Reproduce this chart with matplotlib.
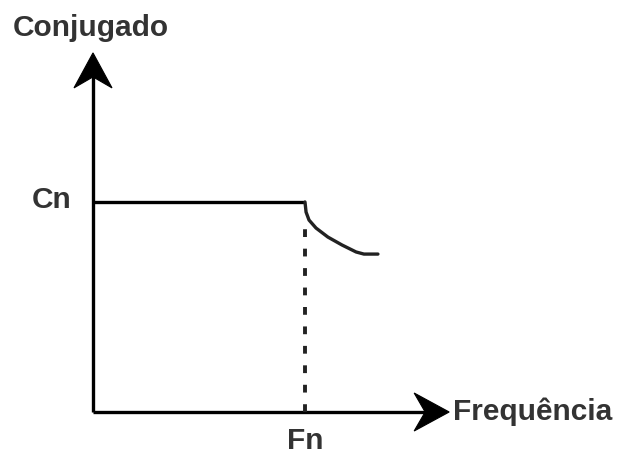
import matplotlib
matplotlib.use("Agg")
import matplotlib.pyplot as plt
from matplotlib.patches import Polygon

# Data (normalized: frequency in units of Fn, torque in units of Cn)
fn = 1.0
cn = 1.0
x_max = 1.68
y_max = 1.71
flat_x = [0.0, 1.0]
flat_y = [1.0, 1.0]
curve_x = [1.0, 1.005, 1.019, 1.052, 1.108, 1.175, 1.241, 1.278, 1.344]
curve_y = [1.0, 0.952, 0.914, 0.876, 0.833, 0.795, 0.762, 0.752, 0.752]
dotted_top = 0.87
labels = {"y": "Conjugado", "x": "Frequência", "cn": "Cn", "fn": "Fn"}

W, H = 624, 455
fig = plt.figure(figsize=(W / 100, H / 100), dpi=100)
ax = fig.add_axes([0, 0, 1, 1])
sx, sy = 212.0, 210.0
ox, oy = 93.0, 412.0
ax.set_xlim(-ox / sx, (W - ox) / sx)
ax.set_ylim(-(H - oy) / sy, oy / sy)
ax.axis("off")

lw = 2.4
# axis shafts
ax.plot([0, 0], [0, y_max - 20 / sy], color="black", lw=lw, solid_capstyle="butt")
ax.plot([0, x_max - 20 / sx], [0, 0], color="black", lw=lw, solid_capstyle="butt")

# stealth-style arrow heads (sizes in pixels)
hl, hw, notch = 35, 19, 24
up = [(0, y_max), (-hw / sx, y_max - hl / sy), (0, y_max - notch / sy), (hw / sx, y_max - hl / sy)]
right = [(x_max, 0), (x_max - hl / sx, hw / sy), (x_max - notch / sx, 0), (x_max - hl / sx, -hw / sy)]
for pts in (up, right):
    ax.add_patch(Polygon(pts, closed=True, facecolor="black", edgecolor="black", lw=0.8))

ax.plot(flat_x, flat_y, color="black", lw=lw, solid_capstyle="butt")
ax.plot(curve_x, curve_y, color="#222222", lw=lw, solid_capstyle="round", solid_joinstyle="round")
ax.plot([fn, fn], [0, dotted_top], color="#222222", lw=2.8, linestyle=(0, (2, 3)))

fam = ["Liberation Sans", "DejaVu Sans"]
fs = 21.5
kw = dict(fontsize=fs, fontweight="bold", color="#333333", family=fam)
ax.text(-0.38, 1.83, labels["y"], ha="left", va="center", **kw)
ax.text(-0.10, cn + 0.01, labels["cn"], ha="right", va="center", **kw)
ax.text(x_max + 0.02, 0.0, labels["x"], ha="left", va="center", **kw)
ax.text(fn, -0.14, labels["fn"], ha="center", va="center", **kw)

fig.savefig("out.png", dpi=100)
